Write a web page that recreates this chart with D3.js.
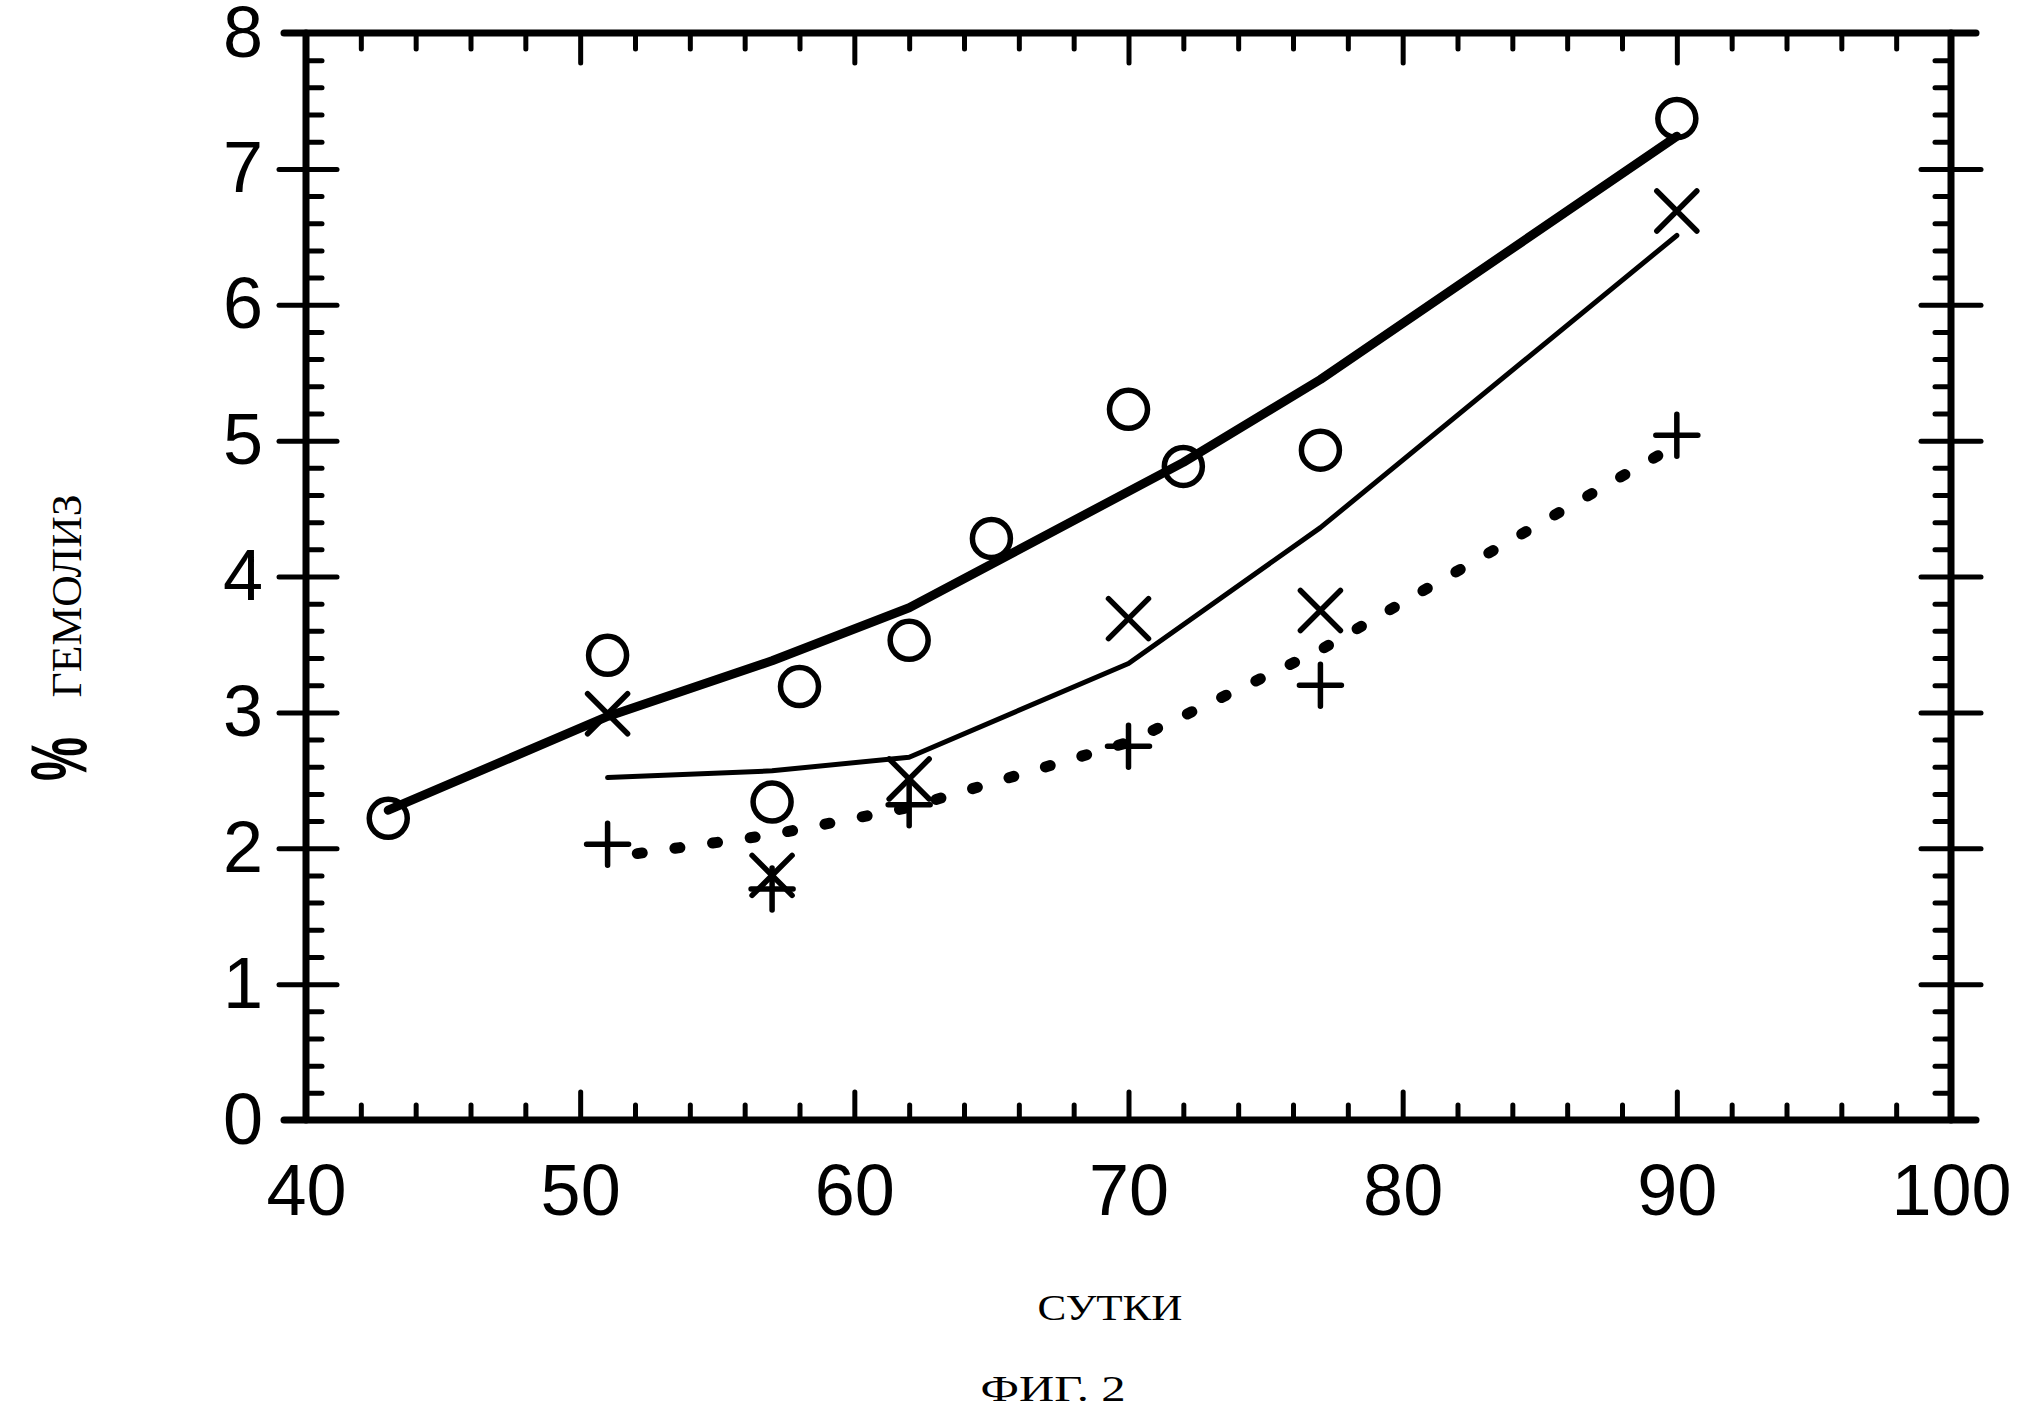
<!DOCTYPE html>
<html>
<head>
  <meta charset="UTF-8">
  <title>ФИГ. 2 - % гемолиз</title>
  <style>
    body { margin: 0; background: #fff; }
    .tick text { font-family: "Liberation Sans", Arial, sans-serif; font-size: 72px; fill: #000; }
    .tick line { stroke: #000; stroke-width: 5; stroke-linecap: round; }
    .frame { stroke: #000; stroke-width: 7; stroke-linecap: round; }
    .caption { font-family: "Liberation Serif", "Times New Roman", serif; fill: #000; }
  </style>
</head>
<body>
<svg id="chart" width="2027" height="1415"></svg>

<script src="https://d3js.org/d3.v7.min.js"></script>
<script>
  // ---- data ----
  // open circles
  var circleDays = [43, 51, 57, 58, 62, 65, 70, 72, 77, 90];
  var circleVals = [2.22, 3.42, 2.34, 3.19, 3.53, 4.28, 5.23, 4.81, 4.93, 7.37];
  // x markers
  var crossDays = [51, 57, 62, 70, 77, 90];
  var crossVals = [2.99, 1.80, 2.51, 3.69, 3.75, 6.69];
  // + markers
  var plusDays = [51, 57, 62, 70, 77, 90];
  var plusVals = [2.03, 1.70, 2.32, 2.75, 3.20, 5.04];

  // fitted curves
  var thickDays = [43, 51, 57, 62, 72, 77, 90];
  var thickVals = [2.28, 2.97, 3.38, 3.77, 4.84, 5.45, 7.24];
  var thinDays = [51, 57, 62, 70, 77, 90];
  var thinVals = [2.52, 2.57, 2.67, 3.36, 4.36, 6.51];
  var dotDays = [51, 57, 62, 70, 77, 90];
  var dotVals = [1.93, 2.10, 2.30, 2.78, 3.46, 4.97];

  // axis ticks
  var xMajor = [40, 50, 60, 70, 80, 90, 100];
  var yMajor = [0, 1, 2, 3, 4, 5, 6, 7, 8];

  var zip = function(xs, ys) { return xs.map(function(d, i) { return [d, ys[i]]; }); };

  var svg = d3.select("#chart");

  var x = d3.scaleLinear().domain([40, 100]).range([306, 1951]);
  var y = d3.scaleLinear().domain([0, 8]).range([1120, 33]);

  var xMinor = d3.range(40, 101, 2).filter(function(d) { return d % 10 !== 0; });
  var yMinor = d3.range(0, 41).filter(function(i) { return i % 5 !== 0; }).map(function(i) { return i / 5; });

  function noDomain(g) { g.select(".domain").remove(); }

  // bottom axis: ticks point inward, labels below
  svg.append("g").attr("transform", "translate(0," + y(0) + ")")
    .call(d3.axisBottom(x).tickValues(xMajor.slice(1, -1)).tickSize(-28).tickFormat(""))
    .call(noDomain);
  svg.append("g").attr("transform", "translate(0," + y(0) + ")")
    .call(d3.axisBottom(x).tickValues(xMinor).tickSize(-15).tickFormat(""))
    .call(noDomain);
  svg.append("g").attr("transform", "translate(0," + y(0) + ")")
    .call(d3.axisBottom(x).tickValues(xMajor).tickSize(0).tickPadding(44).tickFormat(d3.format("d")))
    .call(noDomain);

  // top axis: inward ticks only
  svg.append("g").attr("transform", "translate(0," + y(8) + ")")
    .call(d3.axisTop(x).tickValues(xMajor.slice(1, -1)).tickSize(-30).tickFormat(""))
    .call(noDomain);
  svg.append("g").attr("transform", "translate(0," + y(8) + ")")
    .call(d3.axisTop(x).tickValues(xMinor).tickSize(-16).tickFormat(""))
    .call(noDomain);

  // left axis: major ticks cross the line, labels on the left
  svg.append("g").attr("transform", "translate(" + x(40) + ",0)")
    .call(d3.axisLeft(y).tickValues(yMajor.slice(1, -1)).tickSize(-31).tickFormat(""))
    .call(noDomain);
  svg.append("g").attr("transform", "translate(" + x(40) + ",0)")
    .call(d3.axisLeft(y).tickValues(yMinor).tickSize(-16).tickFormat(""))
    .call(noDomain);
  svg.append("g").attr("transform", "translate(" + x(40) + ",0)")
    .call(d3.axisLeft(y).tickValues(yMajor).tickSize(27).tickPadding(16).tickFormat(d3.format("d")))
    .call(noDomain)
    .call(function(g) { g.selectAll(".tick line").filter(function(d) { return d === 0 || d === 8; }).remove(); });

  // right axis: major ticks cross the line
  svg.append("g").attr("transform", "translate(" + x(100) + ",0)")
    .call(d3.axisRight(y).tickValues(yMajor.slice(1, -1)).tickSize(30).tickFormat(""))
    .call(noDomain);
  svg.append("g").attr("transform", "translate(" + x(100) + ",0)")
    .call(d3.axisRight(y).tickValues(yMajor.slice(1, -1)).tickSize(-30).tickFormat(""))
    .call(noDomain);
  svg.append("g").attr("transform", "translate(" + x(100) + ",0)")
    .call(d3.axisRight(y).tickValues(yMinor).tickSize(-16).tickFormat(""))
    .call(noDomain);

  svg.selectAll(".tick text").attr("fill", "#000");

  // frame (horizontal lines run a little past the corners, as in the scan)
  var frame = svg.append("g").attr("class", "frame");
  frame.append("line").attr("x1", x(40) - 22).attr("x2", x(100) + 25).attr("y1", y(0)).attr("y2", y(0));
  frame.append("line").attr("x1", x(40) - 22).attr("x2", x(100) + 25).attr("y1", y(8)).attr("y2", y(8));
  frame.append("line").attr("x1", x(40)).attr("x2", x(40)).attr("y1", y(0)).attr("y2", y(8));
  frame.append("line").attr("x1", x(100)).attr("x2", x(100)).attr("y1", y(0)).attr("y2", y(8));

  // fitted curves (straight segments between the days)
  var line = d3.line()
    .x(function(d) { return x(d[0]); })
    .y(function(d) { return y(d[1]); })
    .curve(d3.curveLinear);

  svg.append("path").datum(zip(thickDays, thickVals))
    .attr("d", line).attr("fill", "none").attr("stroke", "#000")
    .attr("stroke-width", 9).attr("stroke-linecap", "round").attr("stroke-linejoin", "round");

  svg.append("path").datum(zip(thinDays, thinVals))
    .attr("d", line).attr("fill", "none").attr("stroke", "#000")
    .attr("stroke-width", 5).attr("stroke-linecap", "round").attr("stroke-linejoin", "round");

  svg.append("path").datum(zip(dotDays, dotVals))
    .attr("d", line).attr("fill", "none").attr("stroke", "#000")
    .attr("stroke-width", 11).attr("stroke-linecap", "round")
    .attr("stroke-dasharray", "5 33").attr("stroke-dashoffset", 8);

  // markers
  svg.append("g").selectAll("circle")
    .data(zip(circleDays, circleVals))
    .join("circle")
    .attr("cx", function(d) { return x(d[0]); })
    .attr("cy", function(d) { return y(d[1]); })
    .attr("r", 19)
    .attr("fill", "none").attr("stroke", "#000").attr("stroke-width", 5.5);

  var s = 20;
  svg.append("g").selectAll("path")
    .data(zip(crossDays, crossVals))
    .join("path")
    .attr("transform", function(d) { return "translate(" + x(d[0]) + "," + y(d[1]) + ")"; })
    .attr("d", "M" + (-s) + "," + (-s) + "L" + s + "," + s + "M" + (-s) + "," + s + "L" + s + "," + (-s))
    .attr("fill", "none").attr("stroke", "#000").attr("stroke-width", 5.5).attr("stroke-linecap", "round");

  var p = 21;
  svg.append("g").selectAll("path")
    .data(zip(plusDays, plusVals))
    .join("path")
    .attr("transform", function(d) { return "translate(" + x(d[0]) + "," + y(d[1]) + ")"; })
    .attr("d", "M" + (-p) + ",0H" + p + "M0," + (-p) + "V" + p)
    .attr("fill", "none").attr("stroke", "#000").attr("stroke-width", 5.5).attr("stroke-linecap", "round");

  // axis titles
  svg.append("text")
    .attr("transform", "translate(86,759) rotate(-90) scale(0.62,1)")
    .attr("text-anchor", "middle")
    .style("font-family", "'Liberation Sans', Arial, sans-serif")
    .style("font-weight", "bold")
    .style("font-size", "80px")
    .text("%");

  svg.append("text")
    .attr("class", "caption")
    .attr("transform", "translate(81,596) rotate(-90)")
    .attr("text-anchor", "middle")
    .attr("textLength", 203).attr("lengthAdjust", "spacingAndGlyphs")
    .style("font-size", "42px")
    .text("ГЕМОЛИЗ");

  svg.append("text")
    .attr("class", "caption")
    .attr("x", 1110).attr("y", 1320)
    .attr("text-anchor", "middle")
    .attr("textLength", 145).attr("lengthAdjust", "spacingAndGlyphs")
    .style("font-size", "36px")
    .text("СУТКИ");

  svg.append("text")
    .attr("class", "caption")
    .attr("x", 1053).attr("y", 1401)
    .attr("text-anchor", "middle")
    .attr("textLength", 145).attr("lengthAdjust", "spacingAndGlyphs")
    .style("font-size", "36px")
    .text("ФИГ. 2");
</script>
</body>
</html>
